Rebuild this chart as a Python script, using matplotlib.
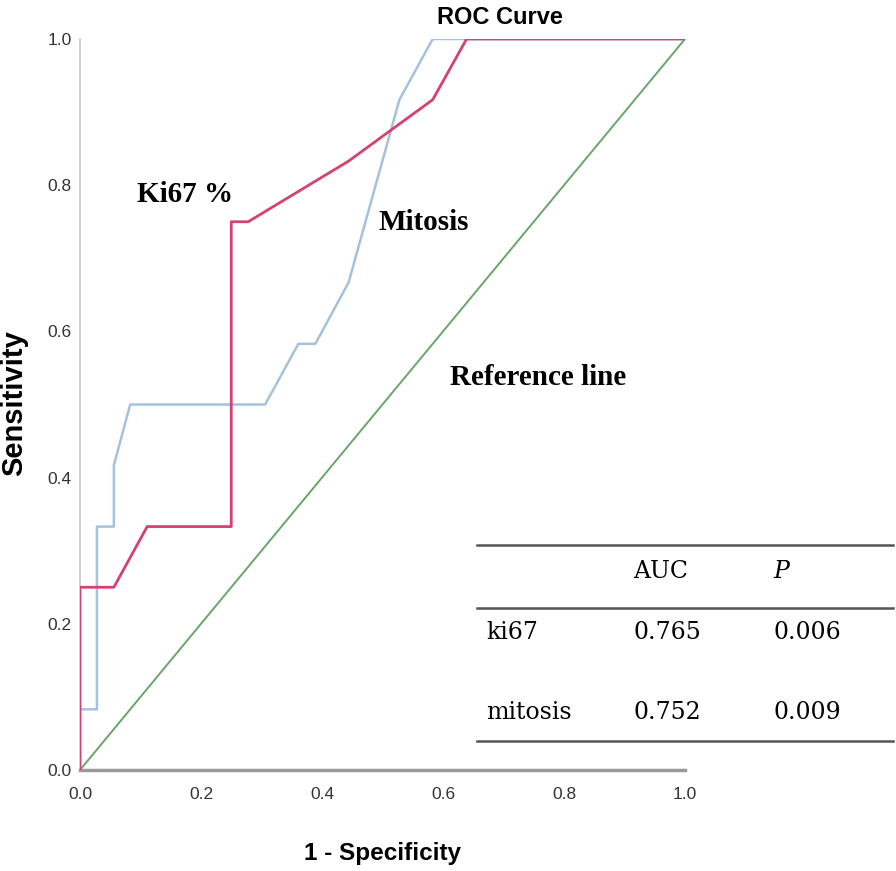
import matplotlib
matplotlib.use('Agg')
import matplotlib.pyplot as plt
from matplotlib.lines import Line2D

# ROC points (1 - specificity, sensitivity)
ki67_fpr = [0.0, 0.0, 0.056, 0.111, 0.25, 0.25, 0.278, 0.444, 0.583, 0.639, 1.0]
ki67_tpr = [0.0, 0.25, 0.25, 0.333, 0.333, 0.75, 0.75, 0.833, 0.917, 1.0, 1.0]

mit_fpr = [0.0, 0.0, 0.028, 0.028, 0.056, 0.056, 0.083, 0.306, 0.361, 0.389, 0.444, 0.528, 0.583, 1.0]
mit_tpr = [0.0, 0.083, 0.083, 0.333, 0.333, 0.417, 0.5, 0.5, 0.583, 0.583, 0.667, 0.917, 1.0, 1.0]

ref_x = [0.0, 1.0]
ref_y = [0.0, 1.0]

ticks = [0.0, 0.2, 0.4, 0.6, 0.8, 1.0]

table_cols = ['', 'AUC', 'P']
table_rows = ['ki67', 'mitosis']
auc_vals = ['0.765', '0.752']
p_vals = ['0.006', '0.009']

sans = ['Liberation Sans', 'DejaVu Sans']
serif = ['Liberation Serif', 'DejaVu Serif']
tserif = ['DejaVu Serif']

W, H = 896, 871
fig = plt.figure(figsize=(W/100, H/100), dpi=100)
ax = fig.add_axes([80/W, 1 - 770/H, 605/W, 731/H])

ax.plot(ref_x, ref_y, color='#6aa56a', linewidth=1.4, zorder=2)
ax.plot(mit_fpr, mit_tpr, color='#a6c1de', linewidth=1.8, zorder=3)
ax.plot(ki67_fpr, ki67_tpr, color='#d4426f', linewidth=2.0, zorder=4)

ax.set_xlim(0, 1)
ax.set_ylim(0, 1)
ax.set_xticks(ticks)
ax.set_yticks(ticks)
ax.set_xticklabels([f'{t:.1f}' for t in ticks], family=sans, fontsize=12.5, color='#333333')
ax.set_yticklabels([f'{t:.1f}' for t in ticks], family=sans, fontsize=12.5, color='#333333')
ax.tick_params(axis='x', length=0, pad=12)
ax.tick_params(axis='y', length=0, pad=6)
ax.spines['top'].set_visible(False)
ax.spines['right'].set_visible(False)
ax.spines['left'].set_color('#c8c8c8')
ax.spines['left'].set_linewidth(1.2)
ax.spines['bottom'].set_color('#9a9a9a')
ax.spines['bottom'].set_linewidth(2.5)

ax.set_xlabel('1 - Specificity', family=sans, fontsize=17.5, fontweight='bold', va='center')
ax.xaxis.set_label_coords(0.5, (770 - 853) / 731)
ax.set_ylabel('Sensitivity', family=sans, fontsize=21, fontweight='bold', va='center')
ax.yaxis.set_label_coords((14 - 80) / 605, (770 - 403) / 731)
ax.set_title('ROC Curve', family=sans, fontsize=17, fontweight='bold',
             x=(500 - 80) / 605, y=1.0, pad=11)

ax.text(0.094, 0.777, 'Ki67 %', family=serif, fontsize=21, fontweight='bold', va='baseline')
ax.text(0.493, 0.739, 'Mitosis', family=serif, fontsize=21, fontweight='bold', va='baseline')
ax.text(0.612, 0.527, 'Reference line', family=serif, fontsize=21, fontweight='bold', va='baseline')

# AUC table, drawn in figure pixels
for yy in [545, 608, 741]:
    fig.add_artist(Line2D([477/W, 893/W], [1 - yy/H, 1 - yy/H], color='#555555', linewidth=1.8))

col_x = [486, 633, 773]
fig.text(col_x[1]/W, 1 - 572/H, table_cols[1], family=tserif, fontsize=17, va='center')
fig.text(col_x[2]/W, 1 - 572/H, table_cols[2], family=tserif, fontsize=17, va='center', style='italic')
for i, name in enumerate(table_rows):
    yy = [632, 712][i]
    fig.text(col_x[0]/W, 1 - yy/H, name, family=tserif, fontsize=17, va='center')
    fig.text(col_x[1]/W, 1 - yy/H, auc_vals[i], family=tserif, fontsize=17, va='center')
    fig.text(col_x[2]/W, 1 - yy/H, p_vals[i], family=tserif, fontsize=17, va='center')

fig.savefig('out.png', dpi=100)
